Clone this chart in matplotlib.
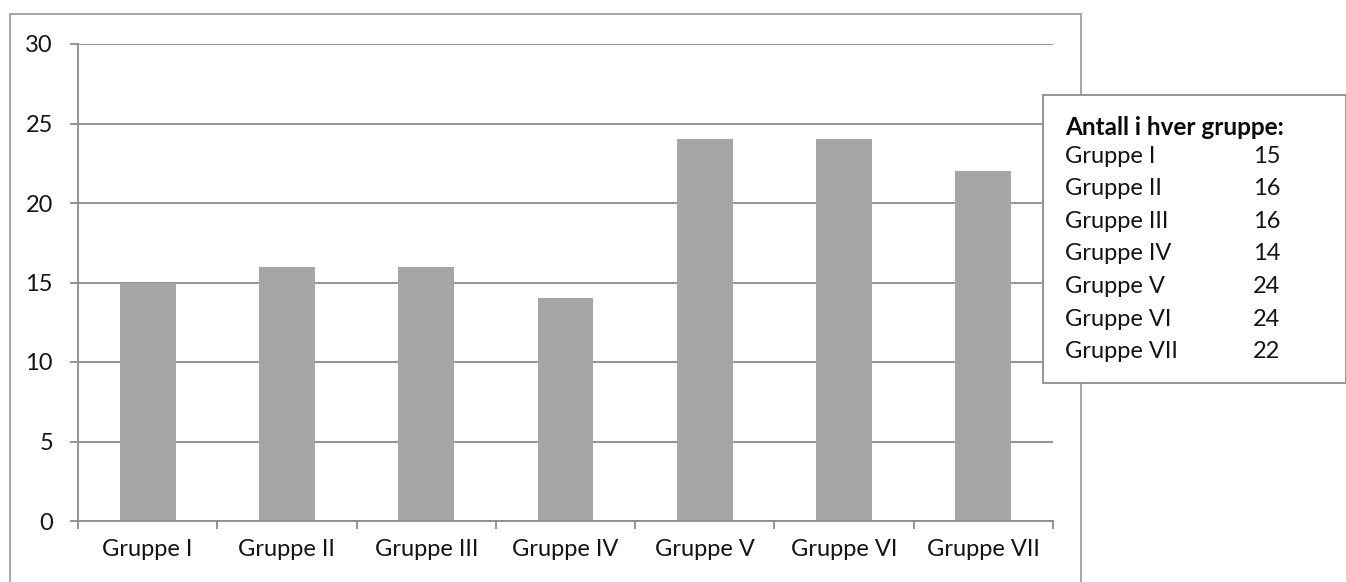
import numpy as np
import matplotlib.pyplot as plt
from matplotlib.patches import Rectangle

groups = ["Gruppe I", "Gruppe II", "Gruppe III", "Gruppe IV", "Gruppe V", "Gruppe VI", "Gruppe VII"]
counts = [15, 16, 16, 14, 24, 24, 22]
legend_title = "Antall i hver gruppe:"

plt.rcParams['font.family'] = ['Lato', 'DejaVu Sans']
grey = '#8c8c8c'
txt = '#141414'

fig = plt.figure(figsize=(13.46, 5.82), dpi=100)
W, H = 1346, 582

# outer chart frame
fig.patches.append(Rectangle((10 / W, -0.05), (1081 - 10) / W, 1 - 14 / H + 0.05,
                             transform=fig.transFigure, fill=False, edgecolor='#a0a0a0', lw=1.3))

ax = fig.add_axes([78 / W, 1 - 521 / H, (1053 - 78) / W, (521 - 44) / H])
x = np.arange(len(groups))
ax.bar(x, counts, width=0.4, color='#a6a6a6', zorder=2)
ax.set_xlim(-0.5, len(groups) - 0.5)
ax.set_ylim(0, 30)
ax.set_yticks(range(0, 31, 5))
ax.yaxis.grid(True, color=grey, lw=1.3, zorder=0)
ax.set_axisbelow(True)
ax.set_xticks(x)
ax.set_xticklabels(groups)
ax.set_xticks(np.arange(-0.5, len(groups)), minor=True)
ax.tick_params(axis='x', which='major', length=0, pad=13, labelsize=17, colors=txt)
ax.tick_params(axis='x', which='minor', length=6, width=1.3, color=grey)
ax.tick_params(axis='y', length=6, width=1.3, color=grey, pad=12, labelsize=17, labelcolor=txt)
for s in ['top', 'right']:
    ax.spines[s].set_visible(False)
for s in ['left', 'bottom']:
    ax.spines[s].set_color(grey)
    ax.spines[s].set_linewidth(1.3)

# text box with counts
fig.patches.append(Rectangle((1043 / W, 1 - 383 / H), (1346 - 1043) / W, (383 - 95) / H,
                             transform=fig.transFigure, facecolor='white', edgecolor='#8c8c8c',
                             lw=1.3, zorder=5))
fig.text(1065 / W, 1 - 135 / H, legend_title, fontsize=17.5, fontweight='bold',
         va='baseline', ha='left', color='#0a0a0a', zorder=6)
for i, (g, c) in enumerate(zip(groups, counts)):
    yy = 1 - (163 + i * 32.5) / H
    fig.text(1065 / W, yy, g, fontsize=17, va='baseline', ha='left', color=txt, zorder=6)
    fig.text(1253 / W, yy, str(c), fontsize=17, va='baseline', ha='left', color=txt, zorder=6)

fig.savefig('out.png', dpi=100)
